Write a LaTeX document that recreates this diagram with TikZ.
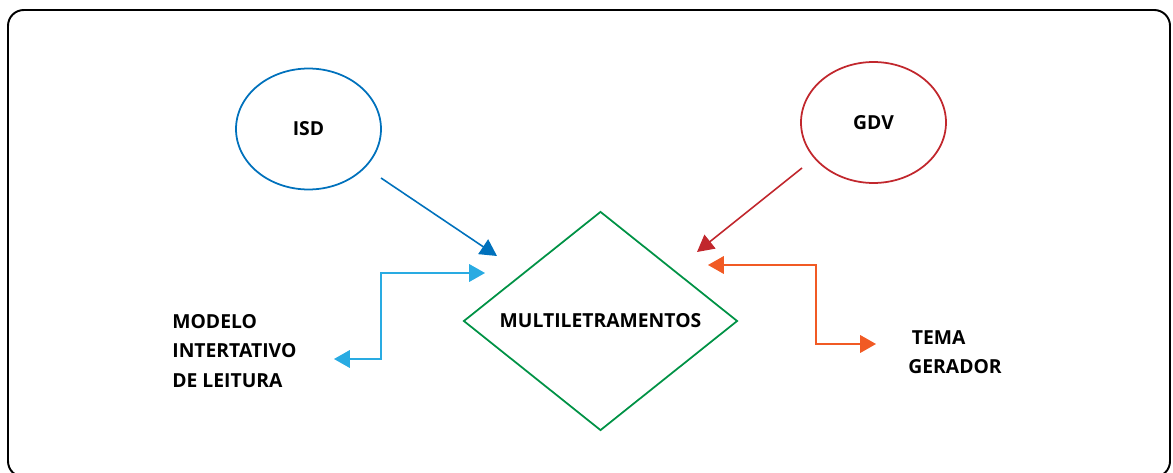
\documentclass[tikz,border=0pt]{standalone}
\usepackage{fontspec}
\setmainfont{Open Sans}
\usetikzlibrary{shapes.geometric, arrows.meta, positioning}
\definecolor{isdblue}{RGB}{0, 113, 188}
\definecolor{gdvred}{RGB}{193, 39, 45}
\definecolor{lightblue}{RGB}{41, 171, 226}
\definecolor{multgreen}{RGB}{0, 146, 69}
\definecolor{temaorange}{RGB}{241, 90, 36}

\begin{document}
\begin{tikzpicture}[
    x=0.02cm, y=-0.02cm,
    label/.style={font=\fontsize{11}{16.7}\selectfont\bfseries, align=left, inner sep=0pt},
    bubble/.style={ellipse, draw, line width=1pt, minimum width=2.9cm, minimum height=2.42cm, label},
    hub/.style={diamond, draw=multgreen, line width=1pt, aspect=1.25, minimum width=5.48cm, minimum height=4.38cm, label},
    arrow/.style={-{Triangle[length=9.5pt, width=10pt]}, line width=0.9pt},
    twoway/.style={{Triangle[length=9pt, width=10pt]}-{Triangle[length=9pt, width=10pt]}, line width=0.9pt}
]
    \useasboundingbox (0,0) rectangle (1173,473);
    \draw[line width=1.1pt, rounded corners=9pt] (8,10) rectangle (1170,477);

    \node[bubble, draw=isdblue] (isd) at (308.5,129) {ISD};
    \node[bubble, draw=gdvred] (gdv) at (873.5,122.5) {GDV};
    \node[hub] (mult) at (600.5,321) {MULTILETRAMENTOS};
    \node[label, anchor=west] (modelo) at (172,351) {MODELO\\INTERTATIVO\\DE LEITURA};
    \node[label, anchor=west] (tema) at (908,352) {\hspace*{2pt}TEMA\\GERADOR};

    \coordinate (isdout) at (381,178);
    \coordinate (isdin) at (497,256);
    \coordinate (gdvout) at (802,168);
    \coordinate (gdvin) at (697,252);
    \coordinate (modin) at (485,273);
    \coordinate (modout) at (334,359);
    \coordinate (temain) at (708,265);
    \coordinate (temaout) at (876,344);

    \draw[arrow, draw=isdblue] (isdout) -- (isdin);
    \draw[arrow, draw=gdvred] (gdvout) -- (gdvin);
    \draw[twoway, draw=lightblue] (modout) -| (381,273) -- (modin);
    \draw[twoway, draw=temaorange] (temain) -| (816,344) -- (temaout);
\end{tikzpicture}
\end{document}
